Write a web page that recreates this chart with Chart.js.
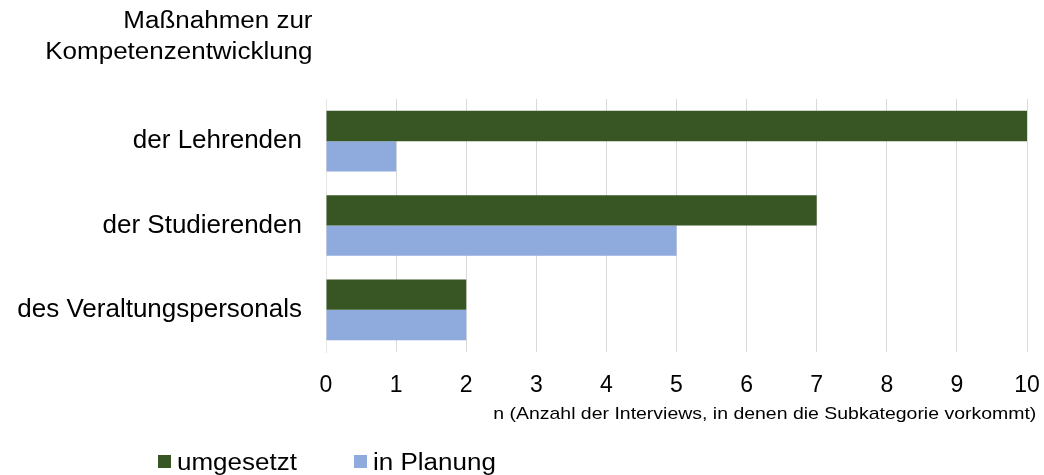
<!DOCTYPE html>
<html>
<head>
<meta charset="utf-8">
<script src="https://cdn.jsdelivr.net/npm/chart.js@4/dist/chart.umd.min.js"></script>
<style>
  body { margin: 0; background: #fff; font-family: "Liberation Sans", Arial, sans-serif; color: #000; }
  #wrap { position: relative; width: 1044px; height: 475px; overflow: hidden; }
  #title { position: absolute; right: 731px; top: 5px; font-size: 23px; line-height: 31px; text-align: right;
           transform: scaleX(1.13); transform-origin: right top; }
  #xtitle { position: absolute; right: 8px; top: 403px; font-size: 17px; line-height: 22px; white-space: nowrap;
            transform: scaleX(1.145); transform-origin: right top; }
  #legend .item { position: absolute; top: 448px; font-size: 23px; line-height: 28px; white-space: nowrap; }
  #legend .box { position: absolute; top: 455px; width: 13px; height: 13px; }
  #legend .txt { display: inline-block; transform: scaleX(1.13); transform-origin: left top; }
</style>
</head>
<body>
<div id="wrap">
  <canvas id="myChart" width="1044" height="475"></canvas>
  <div id="title">Maßnahmen zur<br>Kompetenzentwicklung</div>
  <div id="xtitle">n (Anzahl der Interviews, in denen die Subkategorie vorkommt)</div>
  <div id="legend"></div>
</div>
<script>
const categories = ['der Lehrenden', 'der Studierenden', 'des Veraltungspersonals'];
const umgesetzt = [10, 7, 2];
const inPlanung = [1, 5, 2];
const seriesNames = ['umgesetzt', 'in Planung'];
const seriesColors = ['#375623', '#8FAADC'];

const ctx = document.getElementById('myChart');

const chart = new Chart(ctx, {
    type: 'bar',
    data: {
        labels: categories,
        datasets: [{
            label: seriesNames[0],
            data: umgesetzt,
            backgroundColor: seriesColors[0],
            categoryPercentage: 0.72,
            barPercentage: 1
        }, {
            label: seriesNames[1],
            data: inPlanung,
            backgroundColor: seriesColors[1],
            categoryPercentage: 0.72,
            barPercentage: 1
        }]
    },
    options: {
        indexAxis: 'y',
        responsive: false,
        animation: false,
        layout: { padding: { left: 0, right: 0, top: 99, bottom: 0 } },
        plugins: {
            legend: { display: false },
            tooltip: { enabled: false }
        },
        scales: {
            x: {
                min: 0,
                max: 10,
                ticks: {
                    stepSize: 1,
                    padding: 20,
                    maxRotation: 0,
                    color: '#000',
                    font: { family: 'Liberation Sans', size: 23 }
                },
                grid: { color: '#d9d9d9', drawTicks: false },
                border: { display: false },
                afterFit: (scale) => {
                    scale.height = 123;
                    scale.paddingRight = 17;
                }
            },
            y: {
                ticks: {
                    padding: 24,
                    color: '#000',
                    font: { family: 'Liberation Sans', size: 26 }
                },
                grid: { display: false, drawTicks: false },
                border: { color: '#e6e6e6' },
                afterFit: (scale) => { scale.width = 326; }
            }
        }
    }
});

// legend built from the datasets
const legendEl = document.getElementById('legend');
const legendX = [158, 354];
chart.data.datasets.forEach((ds, i) => {
    const box = document.createElement('span');
    box.className = 'box';
    box.style.left = legendX[i] + 'px';
    box.style.background = ds.backgroundColor;
    legendEl.appendChild(box);

    const item = document.createElement('span');
    item.className = 'item';
    item.style.left = (legendX[i] + 19) + 'px';
    const txt = document.createElement('span');
    txt.className = 'txt';
    txt.textContent = ds.label;
    item.appendChild(txt);
    legendEl.appendChild(item);
});
</script>
</body>
</html>
